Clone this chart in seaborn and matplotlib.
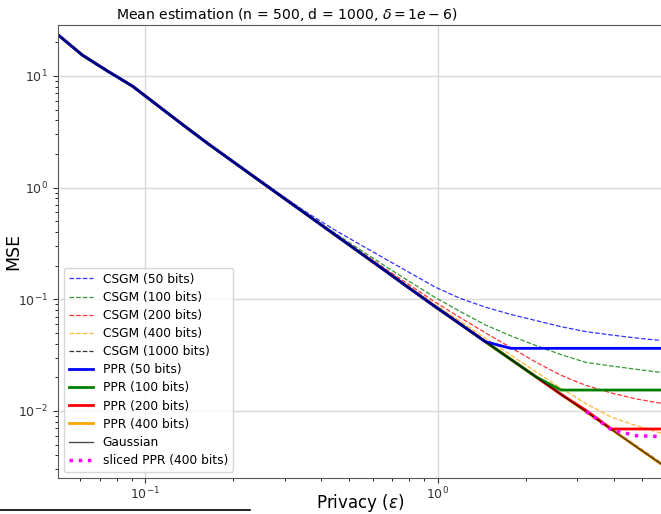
import matplotlib
matplotlib.use("Agg")
import matplotlib.pyplot as plt
from matplotlib.lines import Line2D
import seaborn as sns

# privacy levels (epsilon)
eps = [0.05, 0.061, 0.0743, 0.0907, 0.1106, 0.1348, 0.1644, 0.2005, 0.2445, 0.2981,
       0.3636, 0.4433, 0.5406, 0.6592, 0.8038, 0.980, 1.195, 1.457, 1.777, 2.167,
       2.643, 3.223, 3.930, 4.792, 5.85]

# MSE
gaussian = [23.8, 15.4, 11.1, 8.09, 5.43, 3.65, 2.47, 1.70, 1.17, 0.807,
            0.556, 0.383, 0.264, 0.182, 0.125, 0.0863, 0.0601, 0.0418, 0.0291, 0.0203,
            0.0141, 0.00984, 0.00684, 0.00476, 0.00331]

csgm_50 = [23.8, 15.4, 11.1, 8.09, 5.43, 3.65, 2.47, 1.70, 1.19, 0.826,
           0.582, 0.421, 0.312, 0.232, 0.173, 0.129, 0.102, 0.0851, 0.0733, 0.0646,
           0.0569, 0.0513, 0.0479, 0.0450, 0.0427]
csgm_100 = [23.8, 15.4, 11.1, 8.09, 5.43, 3.65, 2.47, 1.70, 1.18, 0.815,
            0.566, 0.396, 0.281, 0.200, 0.144, 0.104, 0.0779, 0.0590, 0.0472, 0.0386,
            0.0320, 0.0272, 0.0253, 0.0236, 0.0221]
csgm_200 = [23.8, 15.4, 11.1, 8.09, 5.43, 3.65, 2.47, 1.70, 1.175, 0.811,
            0.561, 0.390, 0.272, 0.190, 0.134, 0.0946, 0.0687, 0.0502, 0.0371, 0.0274,
            0.0209, 0.0169, 0.0145, 0.0128, 0.0117]
csgm_400 = [23.8, 15.4, 11.1, 8.09, 5.43, 3.65, 2.47, 1.70, 1.17, 0.808,
            0.558, 0.386, 0.267, 0.185, 0.129, 0.0899, 0.0635, 0.0449, 0.0318, 0.0225,
            0.0160, 0.0116, 0.00881, 0.00738, 0.00631]
csgm_1000 = [23.8, 15.4, 11.1, 8.09, 5.43, 3.65, 2.47, 1.70, 1.17, 0.807,
             0.556, 0.383, 0.264, 0.182, 0.125, 0.0865, 0.0603, 0.0420, 0.0293, 0.0205,
             0.0143, 0.00998, 0.00697, 0.00487, 0.0034]

ppr_50 = gaussian[:18] + [0.0364] * 7
ppr_100 = gaussian[:20] + [0.0154] * 5
ppr_200 = gaussian[:21] + [0.0101, 0.0069, 0.0069, 0.0069]
ppr_400 = list(gaussian)

sliced_eps = [3.223, 3.930, 4.792, 5.85]
sliced_ppr_400 = [0.0099, 0.0068, 0.0060, 0.0059]

fig = plt.figure(figsize=(6.61, 5.14), dpi=100)
ax = fig.add_axes([0.087, 0.070, 0.915, 0.8813])
ax.set_xscale("log")
ax.set_yscale("log")

# CSGM (dashed)
for vals, col, lab in [(csgm_50, "blue", "CSGM (50 bits)"),
                       (csgm_100, "green", "CSGM (100 bits)"),
                       (csgm_200, "red", "CSGM (200 bits)"),
                       (csgm_400, "orange", "CSGM (400 bits)"),
                       (csgm_1000, "black", "CSGM (1000 bits)")]:
    sns.lineplot(x=eps, y=vals, color=col, linestyle="--", linewidth=0.9,
                 alpha=0.8, label=lab, ax=ax, zorder=2)

# PPR (solid) - smaller budgets drawn on top
for vals, col, lab, z in [(ppr_50, "blue", "PPR (50 bits)", 2.4),
                          (ppr_100, "green", "PPR (100 bits)", 2.3),
                          (ppr_200, "red", "PPR (200 bits)", 2.2),
                          (ppr_400, "orange", "PPR (400 bits)", 2.1)]:
    sns.lineplot(x=eps, y=vals, color=col, linewidth=2, label=lab, ax=ax, zorder=z)

sns.lineplot(x=eps, y=gaussian, color="black", linewidth=1, alpha=0.7,
             label="Gaussian", ax=ax, zorder=2.5)
sns.lineplot(x=sliced_eps, y=sliced_ppr_400, color="magenta", linestyle=":",
             linewidth=2.5, label="sliced PPR (400 bits)", ax=ax, zorder=2.6)

ax.set_xlim(0.0502, 5.87)
ax.set_ylim(0.00251, 28.6)
ax.grid(True, which="major", color="0.85", linewidth=1)
ax.spines["right"].set_visible(False)
for s in ["left", "bottom", "top"]:
    ax.spines[s].set_color("0.35")
ax.tick_params(labelsize=9, colors="0.2")
ax.tick_params(axis="x", pad=2)

ax.set_title(r"Mean estimation (n = 500, d = 1000, $\delta = 1e-6$)",
             fontsize=10.1, x=0.379, pad=4)
ax.set_xlabel(r"Privacy ($\epsilon$)", fontsize=12)
ax.set_ylabel("MSE", fontsize=12.5)
ax.xaxis.set_label_coords(0.5, -0.031)
ax.yaxis.set_label_coords(-0.059, 0.5)

ax.legend(loc="lower left", fontsize=8.8, labelspacing=0.42)

# stray rule at the bottom left of the reference
fig.add_artist(Line2D([0, 250 / 661], [1 - 510 / 514] * 2,
                      transform=fig.transFigure, color="black", linewidth=1.2))

plt.savefig("out.png", dpi=100)
